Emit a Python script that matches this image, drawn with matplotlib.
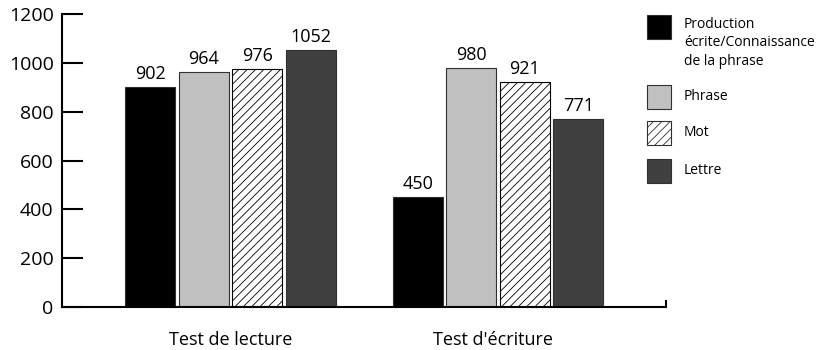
import matplotlib.pyplot as plt
import numpy as np
from matplotlib.patches import Rectangle

plt.rcParams['font.family'] = ['Open Sans', 'DejaVu Sans']
plt.rcParams['hatch.linewidth'] = 0.6

groups = ["Test de lecture", "Test d'écriture"]
series = ["Production\nécrite/Connaissance\nde la phrase", "Phrase", "Mot", "Lettre"]
values = [
    [902, 450],
    [964, 980],
    [976, 921],
    [1052, 771],
]
colors = ["#000000", "#c0c0c0", "#ffffff", "#404040"]
hatches = [None, None, "////", None]
y_ticks = [0, 200, 400, 600, 800, 1000, 1200]

fig = plt.figure(figsize=(8.17, 3.5), dpi=100)
ax = fig.add_axes([62 / 817, 1 - 307 / 350, (666 - 62) / 817, (307 - 14) / 350])

x = np.arange(len(groups))
step = 0.2
width = 0.187
for i, (name, vals) in enumerate(zip(series, values)):
    pos = x + (i - 1.5) * step
    bars = ax.bar(pos, vals, width, color=colors[i], hatch=hatches[i],
                  edgecolor="#303030" if i != 2 else "#000000", linewidth=0.8)
    for b, v in zip(bars, vals):
        ax.text(b.get_x() + b.get_width() / 2, v + 15, str(v),
                ha="center", va="bottom", fontsize=13)

ax.set_xlim(-0.63, 1.628)
ax.set_ylim(0, 1200)
ax.set_yticks(y_ticks)
ax.set_yticklabels([str(t) for t in y_ticks], fontsize=14)
ax.tick_params(axis="y", direction="in", length=15, width=1.5, pad=6)
ax.set_xticks(x - np.array([0, 0.02]))
ax.set_xticklabels(groups, fontsize=13)
ax.tick_params(axis="x", length=0, pad=17)
ax.spines["top"].set_visible(False)
ax.spines["right"].set_visible(False)
ax.spines["left"].set_linewidth(1.5)
ax.spines["bottom"].set_linewidth(1.5)
# small end tick on right of baseline
ax.plot([1.628, 1.628], [0, 25], color="black", lw=1.5, clip_on=False)

# legend drawn by hand
leg_y = [27, 97, 133, 171]
for i, name in enumerate(series):
    yc = 1 - leg_y[i] / 350
    fig.patches.append(Rectangle((647 / 817, yc - 12 / 350), 24 / 817, 24 / 350,
                                 transform=fig.transFigure, facecolor=colors[i],
                                 hatch=hatches[i], edgecolor="#303030", linewidth=0.8))
    ty = 1 - 43 / 350 if i == 0 else yc
    fig.text(684 / 817, ty, name, fontsize=10, va="center",
             ha="left", linespacing=1.32)

fig.savefig("out.png", dpi=100)
